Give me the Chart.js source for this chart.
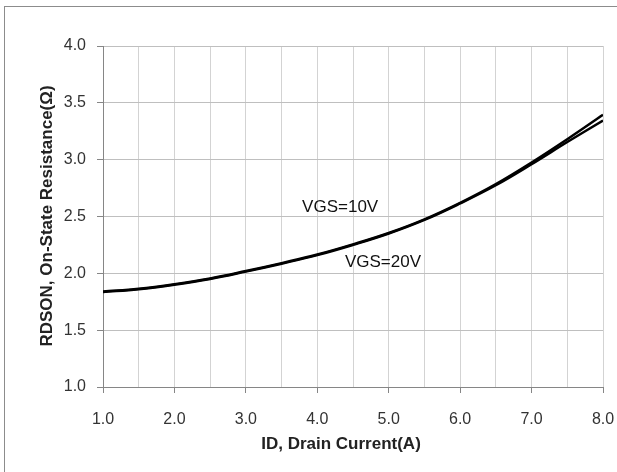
<!DOCTYPE html>
<html>
<head>
<meta charset="utf-8">
<script src="https://cdn.jsdelivr.net/npm/chart.js@4.4.1/dist/chart.umd.min.js"></script>
<style>
  html, body { margin: 0; padding: 0; background: #ffffff; }
  #wrap { width: 617px; height: 472px; }
</style>
</head>
<body>
<div id="wrap"><canvas id="rdsonChart" width="617" height="472"></canvas></div>
<script>
// Drain current samples (A)
const currentA = [1.0, 1.5, 2.0, 2.5, 3.0, 3.5, 4.0, 4.5, 5.0, 5.5, 6.0, 6.5, 7.0, 7.5, 8.0];
// RDSON (ohm)
const rdsonVgs10 = [1.84, 1.865, 1.905, 1.955, 2.02, 2.09, 2.165, 2.255, 2.355, 2.475, 2.62, 2.785, 2.975, 3.18, 3.395];
const rdsonVgs20 = [1.835, 1.86, 1.90, 1.95, 2.015, 2.085, 2.16, 2.25, 2.35, 2.47, 2.615, 2.775, 2.96, 3.155, 3.345];
const seriesNames = ['VGS=10V', 'VGS=20V'];
// where the curve labels sit, in data units
const labelSpots = [[4.32, 2.58], [4.92, 2.10]];

const xTitle = 'ID, Drain Current(A)';
const yTitle = 'RDSON, On-State Resistance(Ω)';

const FONT = "'Liberation Sans Narrow', 'Arial Narrow', 'Liberation Sans', sans-serif";

function toPoints(ys) {
  return currentA.map((x, i) => ({ x: x, y: ys[i] }));
}

// outer frame + axis titles + curve labels
const decorations = {
  id: 'decorations',
  beforeDraw(chart) {
    const ctx = chart.ctx;
    ctx.save();
    ctx.fillStyle = '#ffffff';
    ctx.fillRect(0, 0, chart.width, chart.height);
    ctx.strokeStyle = '#8c8c8c';
    ctx.lineWidth = 1;
    ctx.strokeRect(4.5, 6.5, 800, 800);
    ctx.restore();
  },
  afterDraw(chart) {
    const ctx = chart.ctx;
    const xs = chart.scales.x;
    const ys = chart.scales.y;
    ctx.save();
    ctx.fillStyle = '#222222';
    ctx.textAlign = 'center';
    ctx.textBaseline = 'middle';
    ctx.font = 'bold 17px ' + FONT;
    ctx.fillText(xTitle, 341, 444);
    ctx.translate(47, 216);
    ctx.rotate(-Math.PI / 2);
    ctx.fillText(yTitle, 0, 0);
    ctx.restore();

    ctx.save();
    ctx.fillStyle = '#111111';
    ctx.textAlign = 'center';
    ctx.textBaseline = 'middle';
    ctx.font = '17px ' + FONT;
    seriesNames.forEach((name, i) => {
      const px = xs.getPixelForValue(labelSpots[i][0]);
      const py = ys.getPixelForValue(labelSpots[i][1]);
      ctx.fillText(name, px, py);
    });
    ctx.restore();
  }
};

new Chart(document.getElementById('rdsonChart'), {
  type: 'line',
  data: {
    datasets: [
      {
        label: seriesNames[0],
        data: toPoints(rdsonVgs10),
        borderColor: '#000000',
        borderWidth: 2.5,
        pointRadius: 0,
        tension: 0.4,
        fill: false
      },
      {
        label: seriesNames[1],
        data: toPoints(rdsonVgs20),
        borderColor: '#000000',
        borderWidth: 2.5,
        pointRadius: 0,
        tension: 0.4,
        fill: false
      }
    ]
  },
  options: {
    responsive: false,
    animation: false,
    devicePixelRatio: 1,
    layout: { padding: { top: 46, right: 0, left: 0, bottom: 0 } },
    plugins: {
      legend: { display: false },
      tooltip: { enabled: false }
    },
    scales: {
      x: {
        type: 'linear',
        min: 1.0,
        max: 8.0,
        afterFit(scale) {
          scale.height = 85;
          scale.paddingRight = 14;
          scale.paddingLeft = 0;
        },
        border: { color: '#868686', width: 1 },
        grid: {
          color: '#d3d3d3',
          tickLength: 6,
          tickColor: ctx => (Number.isInteger(ctx.tick.value) ? '#868686' : 'rgba(0,0,0,0)')
        },
        ticks: {
          stepSize: 0.5,
          padding: 17,
          maxRotation: 0,
          autoSkip: false,
          color: '#333333',
          font: { family: FONT, size: 16 },
          callback: v => (Number.isInteger(v) ? v.toFixed(1) : '')
        }
      },
      y: {
        type: 'linear',
        min: 1.0,
        max: 4.0,
        afterFit(scale) { scale.width = 103; },
        border: { color: '#868686', width: 1 },
        grid: {
          color: '#bfbfbf',
          tickLength: 6,
          tickColor: '#868686'
        },
        ticks: {
          stepSize: 0.5,
          padding: 11,
          color: '#333333',
          font: { family: FONT, size: 16 },
          callback: v => v.toFixed(1)
        }
      }
    }
  },
  plugins: [decorations]
});
</script>
</body>
</html>
